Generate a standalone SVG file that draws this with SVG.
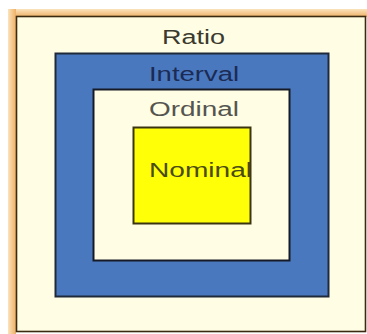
<svg xmlns="http://www.w3.org/2000/svg" width="367" height="334" viewBox="0 0 367 334">
<defs>
<linearGradient id="bandTop" x1="0" y1="0" x2="0" y2="1">
<stop offset="0" stop-color="#fbe3bd"/>
<stop offset="1" stop-color="#eeb064"/>
</linearGradient>
<linearGradient id="bandLeft" x1="0" y1="0" x2="1" y2="0">
<stop offset="0" stop-color="#fbe3bd"/>
<stop offset="1" stop-color="#eeb064"/>
</linearGradient>
</defs>
<style>
text{font-family:"Liberation Sans",Arial,sans-serif;font-size:20px;text-anchor:middle}
.cream{fill:#fffde3}
</style>
<rect x="0" y="0" width="367" height="334" fill="#ffffff"/>
<g id="ratio">
<rect x="8" y="9" width="359" height="8" fill="url(#bandTop)"/>
<rect x="8" y="9" width="8" height="325" fill="url(#bandLeft)"/>
<rect x="16.5" y="16.5" width="349" height="315" class="cream" stroke="#3b2a12" stroke-width="1.6"/>
<text x="193.5" y="44" fill="#3a3a2e" textLength="63" lengthAdjust="spacingAndGlyphs">Ratio</text>
</g>
<g id="interval">
<rect x="55.5" y="53.5" width="273" height="243" fill="#4a78be" stroke="#1e2a3a" stroke-width="2"/>
<text x="194" y="81" fill="#1b2b55" textLength="90" lengthAdjust="spacingAndGlyphs">Interval</text>
</g>
<g id="ordinal">
<rect x="93.5" y="89.5" width="196" height="171" class="cream" stroke="#141a26" stroke-width="2"/>
<text x="194" y="116" fill="#555550" textLength="90" lengthAdjust="spacingAndGlyphs">Ordinal</text>
</g>
<g id="nominal">
<rect x="133.5" y="127.5" width="117" height="96" fill="#ffff08" stroke="#3a3510" stroke-width="2"/>
<text x="200.5" y="177" fill="#4a4a14" textLength="103" lengthAdjust="spacingAndGlyphs">Nominal</text>
</g>
</svg>
